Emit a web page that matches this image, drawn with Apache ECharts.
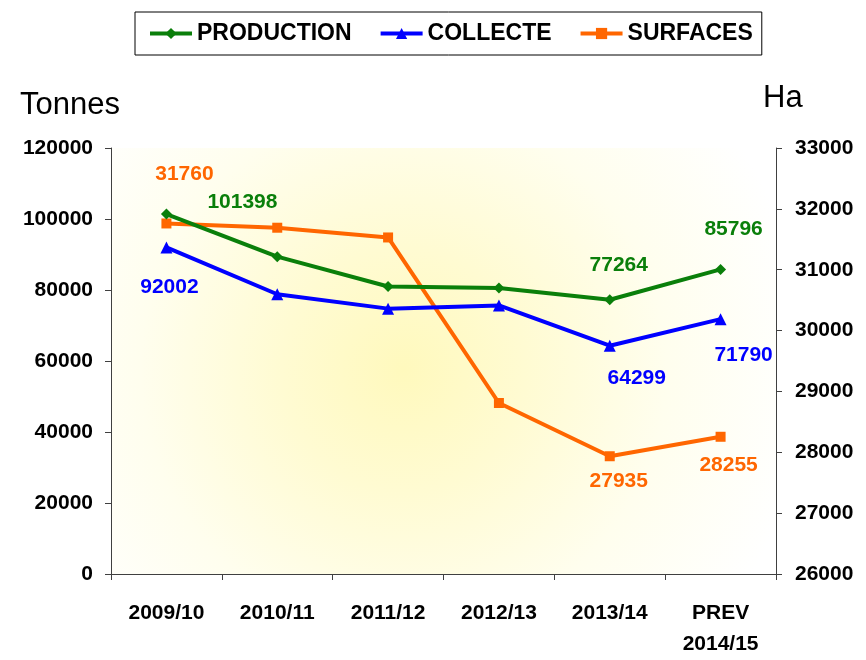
<!DOCTYPE html>
<html>
<head>
<meta charset="utf-8">
<script src="https://cdn.jsdelivr.net/npm/echarts@6/dist/echarts.min.js"></script>
<style>
  html, body { margin: 0; padding: 0; background: #fff; }
  #chart { width: 866px; height: 660px; }
</style>
</head>
<body>
<div id="chart"></div>
<script>
// campagnes
const categories = ['2009/10', '2010/11', '2011/12', '2012/13', '2013/14', 'PREV\n2014/15']
// tonnes
const production = [101398, 89400, 81000, 80550, 77264, 85796]
const collecte = [92002, 78800, 74750, 75650, 64299, 71790]
// ha (axe de droite)
const surfaces = [31760, 31690, 31530, 28810, 27935, 28255]
const leftTicks = [0, 120000, 20000]
const rightTicks = [26000, 33000, 1000]

// étiquettes affichées seulement sur certains points : index -> décalage
const prodLabels = { 0: [76, -12], 4: [9, -35], 5: [13, -40] }
const collLabels = { 0: [3, 40], 4: [27, 32], 5: [23, 36] }
const surfLabels = { 0: [18, -49], 4: [9, 25], 5: [8, 28] }

const font = 'Liberation Sans, Arial, sans-serif'

function withLabels(values, labels, color) {
  return values.map((v, i) => {
    if (!labels[i]) return v
    return {
      value: v,
      label: {
        show: true,
        position: 'inside',
        offset: labels[i],
        color: color,
        fontFamily: font,
        fontWeight: 'bold',
        fontSize: 21
      }
    }
  })
}

const axisStyle = {
  axisLine: { show: true, lineStyle: { color: '#404040', width: 1 } },
  axisTick: { show: true, length: 6, lineStyle: { color: '#404040' } },
  splitLine: { show: false },
  axisLabel: {
    color: '#000', fontFamily: font, fontWeight: 'bold', fontSize: 21,
    formatter: (v) => String(v)
  }
}

const options = {
  animation: false,
  textStyle: { fontFamily: font },
  legend: {
    left: 135,
    top: 12,
    padding: [10, 9, 10, 13],
    borderColor: '#000',
    borderWidth: 1,
    itemWidth: 42,
    itemHeight: 14,
    itemGap: 27,
    lineStyle: { width: 4 },
    textStyle: { color: '#000', fontFamily: font, fontWeight: 'bold', fontSize: 23 },
    data: ['PRODUCTION', 'COLLECTE', 'SURFACES']
  },
  grid: {
    left: 111,
    right: 90,
    top: 148,
    bottom: 77,
    show: true,
    borderWidth: 0,
    backgroundColor: new echarts.graphic.RadialGradient(0.44, 0.52, 0.95, [
      { offset: 0, color: '#fff9bd' },
      { offset: 0.3, color: '#fffbd2' },
      { offset: 0.65, color: '#fffeee' },
      { offset: 1, color: '#ffffff' }
    ])
  },
  graphic: [
    { type: 'text', left: 20, top: 90, style: { text: 'Tonnes', fill: '#000', font: '31px ' + font } },
    { type: 'text', left: 763, top: 83, style: { text: 'Ha', fill: '#000', font: '31px ' + font } }
  ],
  xAxis: {
    type: 'category',
    data: categories,
    boundaryGap: true,
    axisLine: { lineStyle: { color: '#404040', width: 1 } },
    axisTick: { show: true, length: 6, lineStyle: { color: '#404040' } },
    axisLabel: {
      color: '#000', fontFamily: font, fontWeight: 'bold', fontSize: 21,
      margin: 24, lineHeight: 31, interval: 0
    }
  },
  yAxis: [
    {
      type: 'value',
      min: leftTicks[0], max: leftTicks[1], interval: leftTicks[2],
      position: 'left',
      ...axisStyle,
      axisLabel: { ...axisStyle.axisLabel, margin: 18 }
    },
    {
      type: 'value',
      min: rightTicks[0], max: rightTicks[1], interval: rightTicks[2],
      position: 'right',
      ...axisStyle,
      axisLabel: { ...axisStyle.axisLabel, margin: 19 }
    }
  ],
  series: [
    {
      name: 'PRODUCTION',
      type: 'line',
      yAxisIndex: 0,
      data: withLabels(production, prodLabels, '#0a7f0a'),
      color: '#0a7f0a',
      lineStyle: { width: 4 },
      symbol: 'diamond',
      symbolSize: 11,
      z: 3
    },
    {
      name: 'COLLECTE',
      type: 'line',
      yAxisIndex: 0,
      data: withLabels(collecte, collLabels, '#0000ff'),
      color: '#0000ff',
      lineStyle: { width: 4 },
      symbol: 'triangle',
      symbolSize: 12,
      z: 3
    },
    {
      name: 'SURFACES',
      type: 'line',
      yAxisIndex: 1,
      data: withLabels(surfaces, surfLabels, '#ff6600'),
      color: '#ff6600',
      lineStyle: { width: 4 },
      symbol: 'rect',
      symbolSize: 10,
      z: 2
    }
  ]
}

const chart = echarts.init(document.getElementById('chart'))
chart.setOption(options)
</script>
</body>
</html>
